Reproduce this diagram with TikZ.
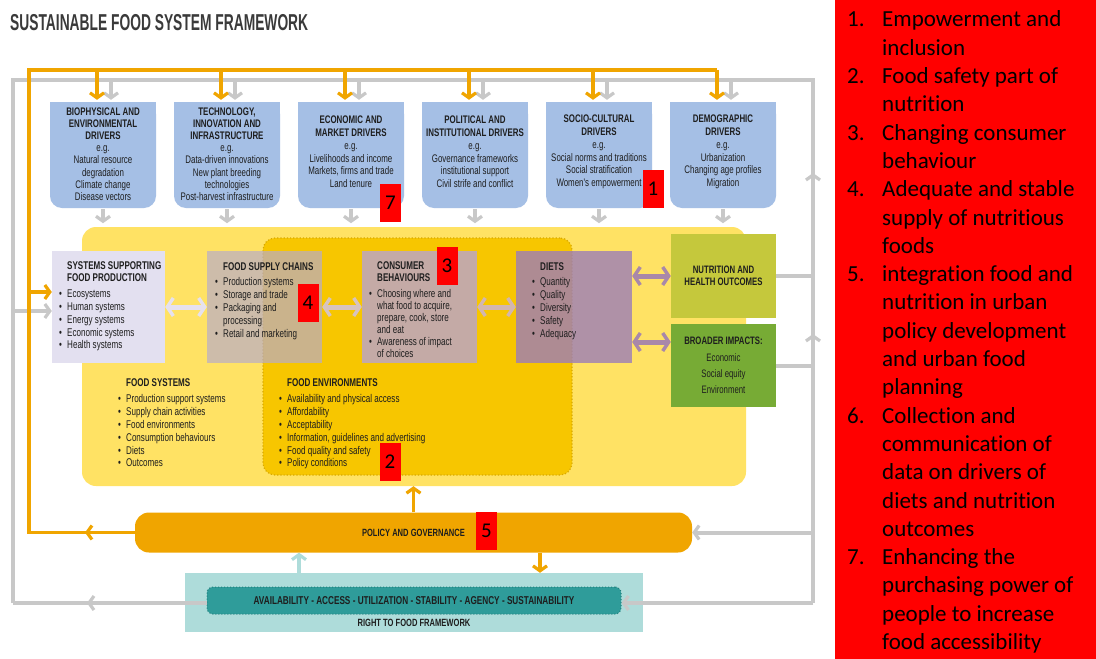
\documentclass[tikz,border=0pt]{standalone}
\usepackage{fontspec}
\setmainfont{Liberation Sans}
\newfontfamily\cndf[FakeStretch=0.72]{Liberation Sans}
\newfontfamily\ttlf[FakeStretch=0.6]{Liberation Sans}
\newfontfamily\calf[Ligatures=NoCommon]{Carlito}
\usetikzlibrary{arrows.meta,calc}
\definecolor{drvblue}{HTML}{A5BFE5}
\definecolor{fsyel}{HTML}{FFE264}
\definecolor{feyel}{HTML}{F7C600}
\definecolor{feborder}{HTML}{D8A800}
\definecolor{sslav}{HTML}{E3E0F0}
\definecolor{fscol}{HTML}{B8ACC8}
\definecolor{cbcol}{HTML}{C4AAA6}
\definecolor{dietcol}{HTML}{9C7DB8}
\definecolor{polor}{HTML}{F0A500}
\definecolor{nutgr}{HTML}{C5C83C}
\definecolor{brogr}{HTML}{77AB35}
\definecolor{tealL}{HTML}{AEDCDA}
\definecolor{tealD}{HTML}{2F9C9A}
\definecolor{tealB}{HTML}{1F7F7C}
\definecolor{lgray}{HTML}{C8C8C8}
\definecolor{txt}{HTML}{1E1E1E}
\definecolor{titlegray}{HTML}{3A3A3A}
\definecolor{arA}{HTML}{E6E1EE}
\definecolor{arB}{HTML}{D7C3BE}
\definecolor{arC}{HTML}{D2B6AF}
\definecolor{arD}{HTML}{A988A9}
\newcommand{\mybul}{\textbullet}
\tikzset{
  gline/.style={draw=lgray, line width=4pt},
  oline/.style={draw=polor, line width=3.5pt},
  garr/.style={draw=lgray, line width=4pt, -{Straight Barb[length=5pt,width=14pt,line width=3.2pt]}},
  oarr/.style={draw=polor, line width=3.5pt, -{Straight Barb[length=5pt,width=14pt,line width=3.2pt]}},
  tarr/.style={draw=tealL, line width=3.5pt, -{Straight Barb[length=5pt,width=14pt,line width=3.2pt]}},
  dar/.style={line width=5pt, {Straight Barb[length=6pt,width=18pt,line width=3.5pt]}-{Straight Barb[length=6pt,width=18pt,line width=3.5pt]}},
  drvbox/.style={fill=drvblue, rounded corners=12pt, minimum width=106, minimum height=106, inner sep=0pt},
  drvtxt/.style={inner sep=0pt, align=center, text=txt, font=\cndf\fontsize{11}{12.2}\selectfont},
  mbox/.style={inner sep=0pt, minimum height=112},
  btxt/.style={inner sep=0pt, anchor=north west, text=txt, font=\cndf\fontsize{11.2}{12.8}\selectfont},
  ctxt/.style={inner sep=0pt, align=center, text=txt, font=\cndf\fontsize{10.8}{12.2}\selectfont},
  numbox/.style={fill=red, minimum width=21, minimum height=38, inner sep=0pt, font=\calf\fontsize{21}{21}\selectfont, text=black},
}
\begin{document}
\begin{tikzpicture}[x=1pt,y=-1pt]
\useasboundingbox (0,0) rectangle (1096,659);
\fill[white] (0,0) rectangle (1096,659);

% title
\node[anchor=base west, inner sep=0pt, font=\ttlf\bfseries\fontsize{23}{23}\selectfont, text=titlegray] (title) at (10,30) {SUSTAINABLE FOOD SYSTEM FRAMEWORK};

% right panel
\node[fill=red, anchor=north west, minimum width=261, minimum height=659, inner sep=0pt] (panel) at (835,0) {};
\node[anchor=north west, inner sep=0pt, font=\calf\fontsize{23}{28.3}\selectfont, text=black] (list) at (847,6.9) {\begin{tabular}{@{}p{35pt}@{}l@{}}
1.&Empowerment and\\ &inclusion\\
2.&Food safety part of\\ &nutrition\\
3.&Changing consumer\\ &behaviour\\
4.&Adequate and stable\\ &supply of nutritious\\ &foods\\
5.&integration food and\\ &nutrition in urban\\ &policy development\\ &and urban food\\ &planning\\
6.&Collection and\\ &communication of\\ &data on drivers of\\ &diets and nutrition\\ &outcomes\\
7.&Enhancing the\\ &purchasing power of\\ &people to increase\\ &food accessibility
\end{tabular}};

% loop coordinates
\coordinate (gTL) at (13,80);
\coordinate (gTR) at (813,80);
\coordinate (gBR) at (813,603);
\coordinate (gBL) at (13,603);
\coordinate (oTL) at (29,70);
\coordinate (oTR) at (717,70);
\coordinate (oBL) at (29,532.5);

% drivers boxes
\foreach \i/\x in {1/103,2/227,3/351,4/475,5/599,6/723} {
  \node[drvbox] (d\i) at (\x,155) {};
  \fill[drvblue] (d\i.north west) rectangle (d\i.east);
}

% big boxes
\node[fill=fsyel, rounded corners=14pt, minimum width=664, minimum height=259, inner sep=0pt] (fs) at (414,356.5) {};
\node[fill=feyel, draw=feborder, dotted, line width=1.2pt, rounded corners=12pt, minimum width=309, minimum height=237, inner sep=0pt] (fe) at (417.5,356.5) {};

% policy & right to food
\node[fill=tealL, minimum width=458, minimum height=59, inner sep=0pt] (rtf) at (414,602.5) {};
\node[fill=tealD, draw=tealB, dotted, line width=1pt, rounded corners=6pt, minimum width=414, minimum height=27, inner sep=0pt] (ban) at (414,600.5) {};
\node[fill=polor, rounded corners=14pt, minimum width=557, minimum height=40, inner sep=0pt] (pol) at (413.5,532.5) {};

% gray loop
\draw[gline] (gBL) -- (gTL) -- (gTR) -- (gBR);
\draw[garr] (gBR) -- (ban.east |- gBR);
\draw[gline] (ban.west |- gBR) -- (gBL);
\draw[garr] ($(gBL)+(86,0)$) -- ($(gBL)+(74,0)$);
\draw[garr] ($(gTR)+(0,107)$) -- ($(gTR)+(0,93)$);
\draw[garr] ($(gTR)+(0,268)$) -- ($(gTR)+(0,254)$);
\draw[garr] (gTR |- pol.east) -- (pol.east);

% middle boxes
\node[mbox, fill=sslav, minimum width=113] (ss) at (108.5,307) {};
\node[mbox, fill=fscol, fill opacity=0.7, minimum width=115] (fsc) at (264.5,307) {};
\node[mbox, fill=cbcol, minimum width=115] (cb) at (419.5,307) {};
\node[mbox, fill=dietcol, fill opacity=0.8, minimum width=116] (diet) at (574,307) {};
\node[fill=nutgr, minimum width=105, minimum height=84, inner sep=0pt] (nut) at (723.5,276) {};
\node[fill=brogr, minimum width=105, minimum height=83, inner sep=0pt] (bro) at (723.5,365.5) {};

\draw[gline] (nut.east) -- (nut.east -| gTR);
\draw[gline] (bro.east) -- (bro.east -| gTR);
\draw[garr] ($(gTL |- ss.west)+(0,4)$) -- ($(ss.west)+(0,4)$);

% orange loop
\draw[oline] (pol.west) -- (oBL) -- (oTL) -- (oTR);
\draw[oarr] ($(oBL)+(70,0)$) -- ($(oBL)+(56,0)$);
\draw[oarr] ($(oTL |- ss.west)+(0,-15)$) -- ($(ss.west)+(0,-15)$);

% driver arrows
\foreach \i in {1,...,6} {
  \draw[garr] ($(d\i.north)+(8,-22)$) -- ($(d\i.north)+(8,-2)$);
  \draw[oarr] ($(d\i.north)+(-6,-32)$) -- ($(d\i.north)+(-6,-2)$);
  \draw[garr] ($(d\i.south)+(0,1)$) -- ($(d\i.south)+(0,15)$);
}

% policy arrows
\draw[oarr] (pol.north) -- (pol.north |- fs.south);
\draw[oarr] ($(pol.south)+(126.5,0)$) -- ($(rtf.north)+(126,0)$);
\draw[tarr] ($(rtf.north)+(-115,0)$) -- ($(pol.south)+(-114.5,0)$);

% double arrows
\draw[dar, draw=arA] (ss.east) -- (fsc.west);
\draw[dar, draw=arB] (fsc.east) -- (cb.west);
\draw[dar, draw=arC] (cb.east) -- (diet.west);
\draw[dar, draw=arD] (diet.east |- nut.west) -- (nut.west);
\draw[dar, draw=arD] ($(diet.east |- bro.west)+(0,-23.5)$) -- ($(bro.west)+(0,-23.5)$);

% driver texts
\node[drvtxt] (t1) at (103,154) {\textbf{BIOPHYSICAL AND}\\\textbf{ENVIRONMENTAL}\\\textbf{DRIVERS}\\e.g.\\Natural resource\\degradation\\Climate change\\Disease vectors};
\node[drvtxt] (t2) at (227,154) {\textbf{TECHNOLOGY,}\\\textbf{INNOVATION AND}\\\textbf{INFRASTRUCTURE}\\e.g.\\Data-driven innovations\\New plant breeding\\technologies\\Post-harvest infrastructure};
\node[drvtxt, font=\cndf\fontsize{11}{12.8}\selectfont] (t3) at (351,152) {\textbf{ECONOMIC AND}\\\textbf{MARKET DRIVERS}\\e.g.\\Livelihoods and income\\Markets, firms and trade\\Land tenure};
\node[drvtxt, font=\cndf\fontsize{11}{12.8}\selectfont] (t4) at (475,152) {\textbf{POLITICAL AND}\\\textbf{INSTITUTIONAL DRIVERS}\\e.g.\\Governance frameworks\\institutional support\\Civil strife and conflict};
\node[drvtxt, font=\cndf\fontsize{11}{12.8}\selectfont] (t5) at (599,152) {\textbf{SOCIO-CULTURAL}\\\textbf{DRIVERS}\\e.g.\\Social norms and traditions\\Social stratification\\Women's empowerment};
\node[drvtxt, font=\cndf\fontsize{11}{12.8}\selectfont] (t6) at (723,152) {\textbf{DEMOGRAPHIC}\\\textbf{DRIVERS}\\e.g.\\Urbanization\\Changing age profiles\\Migration};

% middle texts
\node[btxt] (sst) at (59,260) {\begin{tabular}{@{}p{8pt}@{}l@{}}
&\textbf{SYSTEMS SUPPORTING}\\ &\textbf{FOOD PRODUCTION}\\[3pt]
\mybul&Ecosystems\\ \mybul&Human systems\\ \mybul&Energy systems\\ \mybul&Economic systems\\ \mybul&Health systems
\end{tabular}};
\node[btxt] (fsct) at (215,261) {\begin{tabular}{@{}p{8pt}@{}l@{}}
&\textbf{FOOD SUPPLY CHAINS}\\[3pt]
\mybul&Production systems\\ \mybul&Storage and trade\\ \mybul&Packaging and\\ &processing\\ \mybul&Retail and marketing
\end{tabular}};
\node[btxt, font=\cndf\fontsize{11.2}{12}\selectfont] (cbt) at (369,261) {\begin{tabular}{@{}p{8pt}@{}l@{}}
&\textbf{CONSUMER}\\ &\textbf{BEHAVIOURS}\\[4pt]
\mybul&Choosing where and\\ &what food to acquire,\\ &prepare, cook, store\\ &and eat\\ \mybul&Awareness of impact\\ &of choices
\end{tabular}};
\node[btxt] (diett) at (532,261) {\begin{tabular}{@{}p{8pt}@{}l@{}}
&\textbf{DIETS}\\[3pt]
\mybul&Quantity\\ \mybul&Quality\\ \mybul&Diversity\\ \mybul&Safety\\ \mybul&Adequacy
\end{tabular}};
\node[btxt] (fst) at (118,377) {\begin{tabular}{@{}p{8pt}@{}l@{}}
&\textbf{FOOD SYSTEMS}\\[4pt]
\mybul&Production support systems\\ \mybul&Supply chain activities\\ \mybul&Food environments\\ \mybul&Consumption behaviours\\ \mybul&Diets\\ \mybul&Outcomes
\end{tabular}};
\node[btxt] (fet) at (279,377) {\begin{tabular}{@{}p{8pt}@{}l@{}}
&\textbf{FOOD ENVIRONMENTS}\\[4pt]
\mybul&Availability and physical access\\ \mybul&Affordability\\ \mybul&Acceptability\\ \mybul&Information, guidelines and advertising\\ \mybul&Food quality and safety\\ \mybul&Policy conditions
\end{tabular}};

\node[ctxt] (nutt) at (nut.center) {\textbf{NUTRITION AND}\\\textbf{HEALTH OUTCOMES}};
\node[ctxt, font=\cndf\fontsize{10.8}{16.3}\selectfont] (brot) at (bro.center) {\textbf{BROADER IMPACTS:}\\Economic\\Social equity\\Environment};
\node[ctxt, font=\cndf\bfseries\fontsize{10.5}{12}\selectfont] (polt) at (pol.center) {POLICY AND GOVERNANCE};
\node[ctxt, font=\cndf\bfseries\fontsize{11.4}{12}\selectfont] (bant) at (ban.center) {AVAILABILITY - ACCESS - UTILIZATION - STABILITY - AGENCY - SUSTAINABILITY};
\node[ctxt, font=\cndf\bfseries\fontsize{10.5}{12}\selectfont] (rtft) at (414,623) {RIGHT TO FOOD FRAMEWORK};

% red numbers
\node[numbox] (n7) at (390.5,202.5) {7};
\node[numbox] (n1) at (653,188.5) {1};
\node[numbox] (n4) at (308,303) {4};
\node[numbox] (n3) at (447,265.5) {3};
\node[numbox] (n2) at (390,462) {2};
\node[numbox] (n5) at (486.5,531) {5};
\end{tikzpicture}
\end{document}
